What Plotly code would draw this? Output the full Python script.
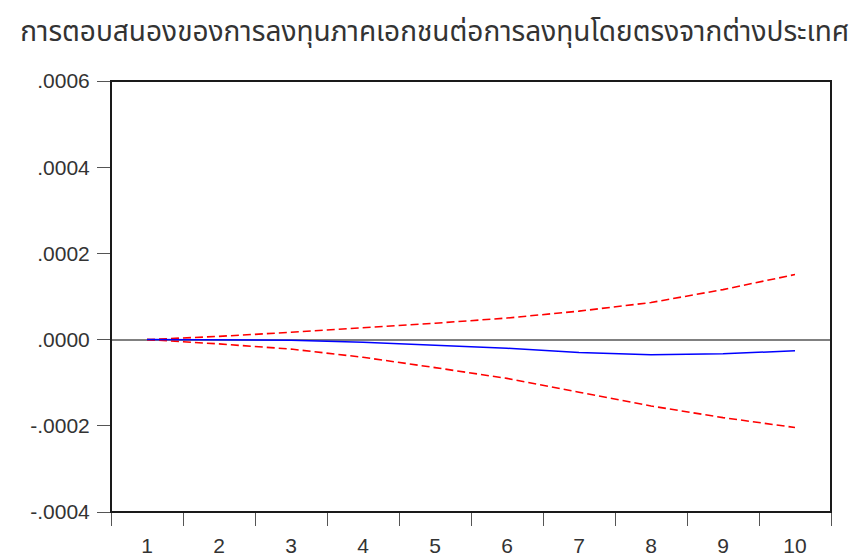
import plotly.graph_objects as go

# Impulse-response horizon (periods)
periods = ["1", "2", "3", "4", "5", "6", "7", "8", "9", "10"]

# Response of private investment to an FDI shock, with +/- 2 S.E. bands
response = [0.0, -0.5e-6, -1.5e-6, -6.0e-6, -1.3e-5, -2.0e-5, -3.0e-5, -3.5e-5, -3.3e-5, -2.6e-5]
upper_band = [0.0, 7.5e-6, 1.7e-5, 2.7e-5, 3.8e-5, 5.0e-5, 6.6e-5, 8.6e-5, 1.16e-4, 1.51e-4]
lower_band = [0.0, -1.0e-5, -2.2e-5, -4.1e-5, -6.5e-5, -9.0e-5, -1.22e-4, -1.54e-4, -1.81e-4, -2.04e-4]

y_ticks = [-0.0004, -0.0002, 0.0, 0.0002, 0.0004, 0.0006]
y_tick_text = ["-.0004", "-.0002", ".0000", ".0002", ".0004", ".0006"]

title_text = "การตอบสนองของการลงทุนภาคเอกชนต่อการลงทุนโดยตรงจากต่างประเทศ"

tick_font = dict(family="Liberation Sans, Arial", size=21, color="#333333")

fig = go.Figure()

fig.add_trace(go.Scatter(x=periods, y=upper_band, mode="lines",
                         line=dict(color="#ff0000", width=1.6, dash="8px,4px"),
                         showlegend=False, hoverinfo="skip"))
fig.add_trace(go.Scatter(x=periods, y=lower_band, mode="lines",
                         line=dict(color="#ff0000", width=1.6, dash="8px,4px"),
                         showlegend=False, hoverinfo="skip"))
fig.add_trace(go.Scatter(x=periods, y=response, mode="lines",
                         line=dict(color="#0000ff", width=1.5),
                         showlegend=False))

fig.update_layout(
    width=856, height=558,
    margin=dict(l=111, r=25, t=81, b=46),
    paper_bgcolor="white", plot_bgcolor="white",
    title=dict(text=title_text, x=0.508, xanchor="center", y=0.944, yanchor="middle",
               font=dict(family="Noto Sans Thai, Noto Sans, sans-serif", size=28, color="#333333")),
    shapes=[dict(type="rect", xref="paper", yref="paper", x0=0, x1=1, y0=0, y1=1,
                 line=dict(color="#1a1a1a", width=2), layer="above")],
)

fig.update_xaxes(
    type="category", range=[-0.5, 9.5], tickson="boundaries",
    ticks="outside", ticklen=13, tickwidth=1, tickcolor="#555555",
    showgrid=False, zeroline=False, showline=False, automargin=False,
    tickfont=tick_font, ticklabelstandoff=19,
)

fig.update_yaxes(
    range=[-0.0004, 0.0006], tickmode="array", tickvals=y_ticks, ticktext=y_tick_text,
    ticks="outside", ticklen=13, tickwidth=1, tickcolor="#555555",
    showgrid=False, showline=False, automargin=False,
    zeroline=True, zerolinecolor="#808080", zerolinewidth=1.5,
    tickfont=tick_font, ticklabelstandoff=3,
)

fig.write_html("out.html")
